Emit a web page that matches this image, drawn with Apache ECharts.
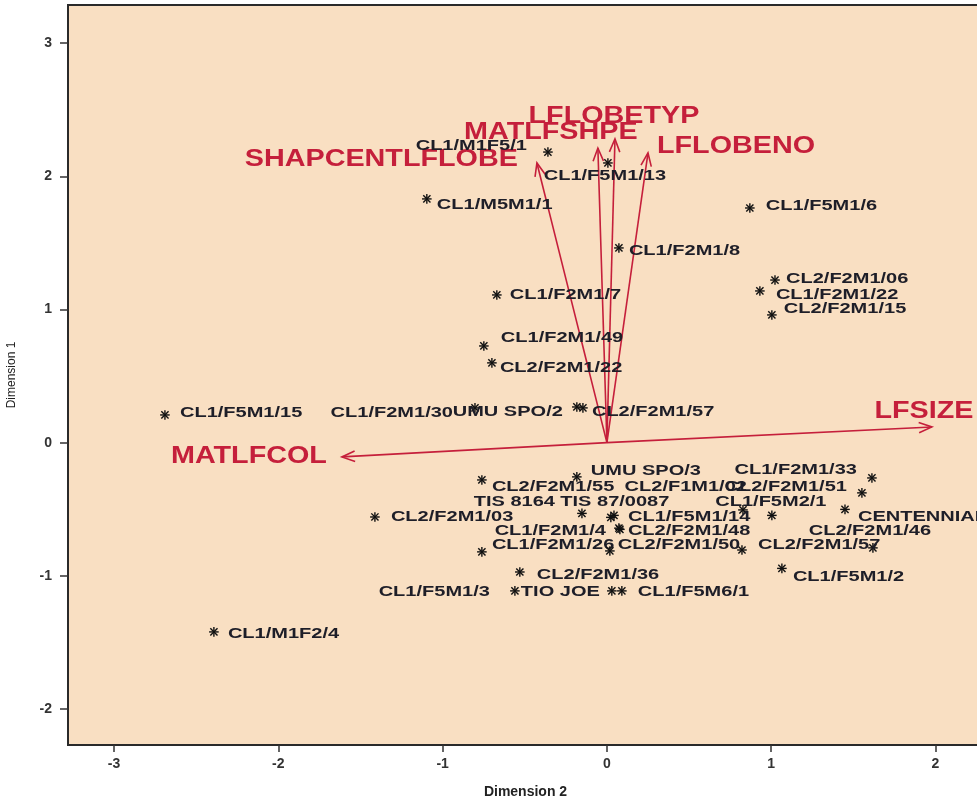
<!DOCTYPE html>
<html>
<head>
<meta charset="utf-8">
<script src="https://cdn.jsdelivr.net/npm/echarts@6/dist/echarts.min.js"></script>
<style>
  html, body { margin: 0; padding: 0; background: #fff; }
  #chart { width: 977px; height: 798px; }
</style>
</head>
<body>
<div id="chart"></div>
<script>
// genotype scores (Dimension 2 = x, Dimension 1 = y)
const genotypes = [
  'CL1/M1F5/1', 'CL1/F5M1/13', 'CL1/M5M1/1', 'CL1/F5M1/6', 'CL1/F2M1/8',
  'CL2/F2M1/06', 'CL1/F2M1/22', 'CL2/F2M1/15', 'CL1/F2M1/7', 'CL1/F2M1/49',
  'CL2/F2M1/22', 'CL1/F5M1/15', 'CL1/F2M1/30', 'UMU SPO/2', 'CL2/F2M1/57',
  'UMU SPO/3', 'CL2/F2M1/55', 'CL1/F2M1/33', 'CL2/F2M1/51', 'CL2/F1M1/02',
  'TIS 8164', 'TIS 87/0087', 'CL1/F5M2/1', 'CENTENNIAL', 'CL2/F2M1/03',
  'CL1/F5M1/14', 'CL1/F2M1/4', 'CL2/F2M1/48', 'CL2/F2M1/46', 'CL1/F2M1/26',
  'CL2/F2M1/50', 'CL2/F2M1/57', 'CL2/F2M1/36', 'CL1/F5M1/2', 'CL1/F5M1/3',
  'TIO JOE', 'CL1/F5M6/1', 'CL1/M1F2/4'
];
const dim2 = [
  -0.359, 0.006, -1.096, 0.870, 0.073,
  1.023, 0.931, 1.004, -0.670, -0.749,
  -0.700, -2.690, -0.803, -0.183, -0.146,
  -0.183, -0.761, 1.613, 1.552, 0.828,
  -0.152, 0.024, 1.004, 1.449, -1.412,
  0.043, 0.073, 0.079, 1.619, -0.761,
  0.018, 0.822, -0.530, 1.065, -0.560,
  0.030, 0.091, -2.392
];
const dim1 = [
  2.182, 2.100, 1.830, 1.762, 1.462,
  1.221, 1.139, 0.959, 1.109, 0.726,
  0.599, 0.208, 0.261, 0.268, 0.261,
  -0.257, -0.280, -0.265, -0.377, -0.505,
  -0.531, -0.561, -0.546, -0.501, -0.558,
  -0.546, -0.642, -0.651, -0.790, -0.820,
  -0.813, -0.806, -0.971, -0.944, -1.113,
  -1.113, -1.113, -1.421
];
// where each genotype name sits relative to its point (px)
const labelNudge = [
  [-21, -6, 'right'], [-3, 13, 'center'], [10, 6, 'left'], [16, -2, 'left'], [10, 3, 'left'],
  [11, -1, 'left'], [16, 4, 'left'], [12, -6, 'left'], [13, 0, 'left'], [17, -8, 'left'],
  [8, 5, 'left'], [15, -2, 'left'], [-22, 5, 'right'], [-14, 5, 'right'], [9, 4, 'left'],
  [14, -6, 'left'], [10, 7, 'left'], [-15, -8, 'right'], [-15, -6, 'right'], [4, -23, 'right'],
  [-27, -11, 'right'], [4, -15, 'center'], [-1, -13, 'center'], [13, 8, 'left'], [16, 0, 'left'],
  [14, 2, 'left'], [-13, 3, 'right'], [8, 2, 'left'], [-3, -17, 'center'], [10, -7, 'left'],
  [8, -6, 'left'], [16, -5, 'left'], [17, 3, 'left'], [11, 9, 'left'], [-25, 1, 'right'],
  [-12, 1, 'right'], [16, 1, 'left'], [14, 2, 'left']
];

// trait vectors
const variables = ['LFSIZE', 'MATLFCOL', 'SHAPCENTLFLOBE', 'MATLFSHPE', 'LFLOBETYP', 'LFLOBENO'];
const varDim2 = [1.978, -1.613, -0.426, -0.055, 0.049, 0.250];
const varDim1 = [0.118, -0.107, 2.100, 2.212, 2.280, 2.175];
const varNudge = [
  [-8, -15, 'center'], [-15, 0, 'right'], [-19, -3, 'right'],
  [-47, -15, 'center'], [-1, -22, 'center'], [9, -6, 'left']
];

const xTicks = [-3, -2, -1, 0, 1, 2];
const yTicks = [-2, -1, 0, 1, 2, 3];

const RED = '#C51F3B';
const FONT = '"Liberation Sans", Arial, sans-serif';

const chart = echarts.init(document.getElementById('chart'));

const option = {
  animation: false,
  backgroundColor: '#ffffff',
  grid: {
    left: 68, top: 5, bottom: 53, width: 915,
    outerBoundsMode: 'none',
    containLabel: false,
    show: true,
    backgroundColor: '#F9DFC2',
    borderColor: '#2a2a2a',
    borderWidth: 2
  },
  xAxis: {
    type: 'value',
    min: -3.28, max: 2.289,
    name: 'Dimension 2',
    nameLocation: 'middle',
    nameGap: 40,
    nameTextStyle: { fontFamily: FONT, fontWeight: 'bold', fontSize: 14, color: '#222' },
    axisLine: { show: false, onZero: false },
    splitLine: { show: false },
    axisTick: { show: true, length: 7, customValues: xTicks, lineStyle: { color: '#333', width: 1.5 } },
    axisLabel: { customValues: xTicks, margin: 12, fontFamily: FONT, fontWeight: 'bold', fontSize: 14, color: '#333' }
  },
  yAxis: {
    type: 'value',
    min: -2.27, max: 3.286,
    name: 'Dimension 1',
    nameLocation: 'middle',
    nameGap: 50,
    nameTextStyle: { fontFamily: FONT, fontSize: 12, color: '#222' },
    axisLine: { show: false, onZero: false },
    splitLine: { show: false },
    axisTick: { show: true, length: 8, customValues: yTicks, lineStyle: { color: '#333', width: 1.5 } },
    axisLabel: { customValues: yTicks, margin: 16, fontFamily: FONT, fontWeight: 'bold', fontSize: 14, color: '#333' }
  },
  series: [
    {
      type: 'custom',
      name: 'traits',
      clip: false,
      data: variables.map((v, i) => [varDim2[i], varDim1[i], i]),
      renderItem: (params, api) => {
        const i = api.value(2);
        const o = api.coord([0, 0]);
        const t = api.coord([api.value(0), api.value(1)]);
        const ang = Math.atan2(t[1] - o[1], t[0] - o[0]);
        const hl = 14, ha = 0.38;
        const w1 = [t[0] - hl * Math.cos(ang - ha), t[1] - hl * Math.sin(ang - ha)];
        const w2 = [t[0] - hl * Math.cos(ang + ha), t[1] - hl * Math.sin(ang + ha)];
        const nd = varNudge[i];
        return {
          type: 'group',
          children: [
            { type: 'line', shape: { x1: o[0], y1: o[1], x2: t[0], y2: t[1] },
              style: { stroke: RED, lineWidth: 1.6 } },
            { type: 'polyline', shape: { points: [w1, t, w2] },
              style: { stroke: RED, lineWidth: 1.6, fill: null } },
            { type: 'text', x: t[0] + nd[0], y: t[1] + nd[1], scaleX: 1.25,
              style: { text: variables[i], fill: RED, font: 'bold 23px ' + FONT,
                       align: nd[2], verticalAlign: 'middle' } }
          ]
        };
      }
    },
    {
      type: 'custom',
      name: 'genotypes',
      clip: false,
      data: genotypes.map((g, i) => [dim2[i], dim1[i], i]),
      renderItem: (params, api) => {
        const i = api.value(2);
        const p = api.coord([api.value(0), api.value(1)]);
        const a = 4.8, d = 3.6;
        const st = { stroke: '#111', lineWidth: 1.4 };
        const nd = labelNudge[i];
        return {
          type: 'group',
          children: [
            { type: 'line', shape: { x1: p[0] - a, y1: p[1], x2: p[0] + a, y2: p[1] }, style: st },
            { type: 'line', shape: { x1: p[0], y1: p[1] - a, x2: p[0], y2: p[1] + a }, style: st },
            { type: 'line', shape: { x1: p[0] - d, y1: p[1] - d, x2: p[0] + d, y2: p[1] + d }, style: st },
            { type: 'line', shape: { x1: p[0] - d, y1: p[1] + d, x2: p[0] + d, y2: p[1] - d }, style: st },
            { type: 'text', x: p[0] + nd[0], y: p[1] + nd[1], scaleX: 1.43,
              style: { text: genotypes[i], fill: '#1e1e28', font: 'bold 14px ' + FONT,
                       align: nd[2], verticalAlign: 'middle' } }
          ]
        };
      }
    }
  ]
};

chart.setOption(option);
window.addEventListener('resize', () => chart.resize());
</script>
</body>
</html>
